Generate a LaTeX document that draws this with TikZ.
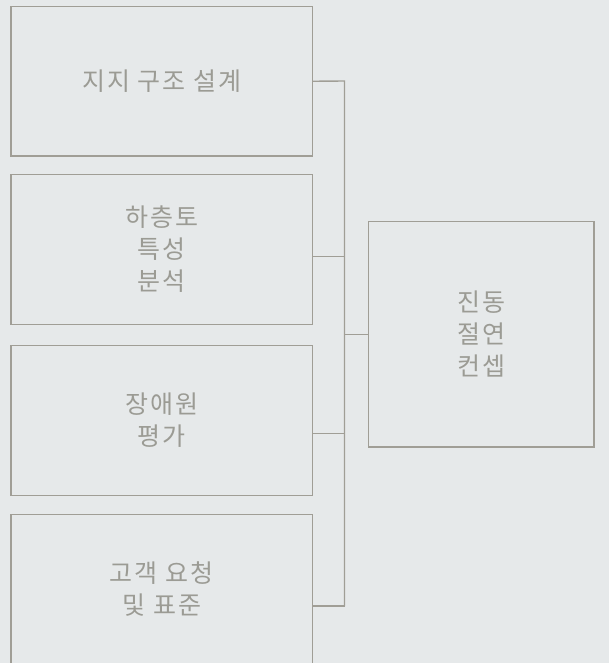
\documentclass[tikz,border=0pt]{standalone}
\usepackage{fontspec}
\newfontfamily\kr[LetterSpace=8]{Noto Sans CJK KR}
\definecolor{bg}{RGB}{230,233,234}
\definecolor{ln}{RGB}{160,158,150}
\definecolor{tx}{RGB}{155,155,148}
\tikzset{
  box/.style={draw=ln, line width=1.4pt, fill=bg, text=tx, align=center, inner sep=0pt,
    font=\kr\fontsize{25}{32}\selectfont},
  wire/.style={draw=ln, line width=1.4pt}
}
\begin{document}
\begin{tikzpicture}[x=1pt,y=-1pt]
\fill[bg] (0,0) rectangle (609,663);
\useasboundingbox (0,0) rectangle (609,663);
\clip (0,0) rectangle (609,663);
\node[box, minimum width=301.5pt, minimum height=149.5pt] (b1) at (161.75,81.25) {지지 구조 설계};
\node[box, minimum width=301.5pt, minimum height=149.5pt] (b2) at (161.75,249.5) {하층토\\특성\\분석};
\node[box, minimum width=301.5pt, minimum height=149.5pt] (b3) at (161.75,420.5) {장애원\\평가};
\node[box, minimum width=301.5pt, minimum height=149.5pt] (b4) at (161.75,589.5) {고객 요청\\및 표준};
\node[box, minimum width=225.5pt, minimum height=225.5pt] (r) at (481.25,334.25) {진동\\절연\\컨셉};
\coordinate (top) at (344.5,81);
\coordinate (bot) at (344.5,606);
\draw[wire] (b1.east) -- (top) -- (bot);
\draw[wire] ([yshift=-7.2pt]b2.east) -- ([yshift=-7.2pt]b2.east -| top);
\draw[wire] ([yshift=-12.8pt]b3.east) -- ([yshift=-12.8pt]b3.east -| top);
\draw[wire] ([yshift=-16.5pt]b4.east) -- (bot);
\draw[wire] (r.west) -- (r.west -| top);
\end{tikzpicture}
\end{document}
